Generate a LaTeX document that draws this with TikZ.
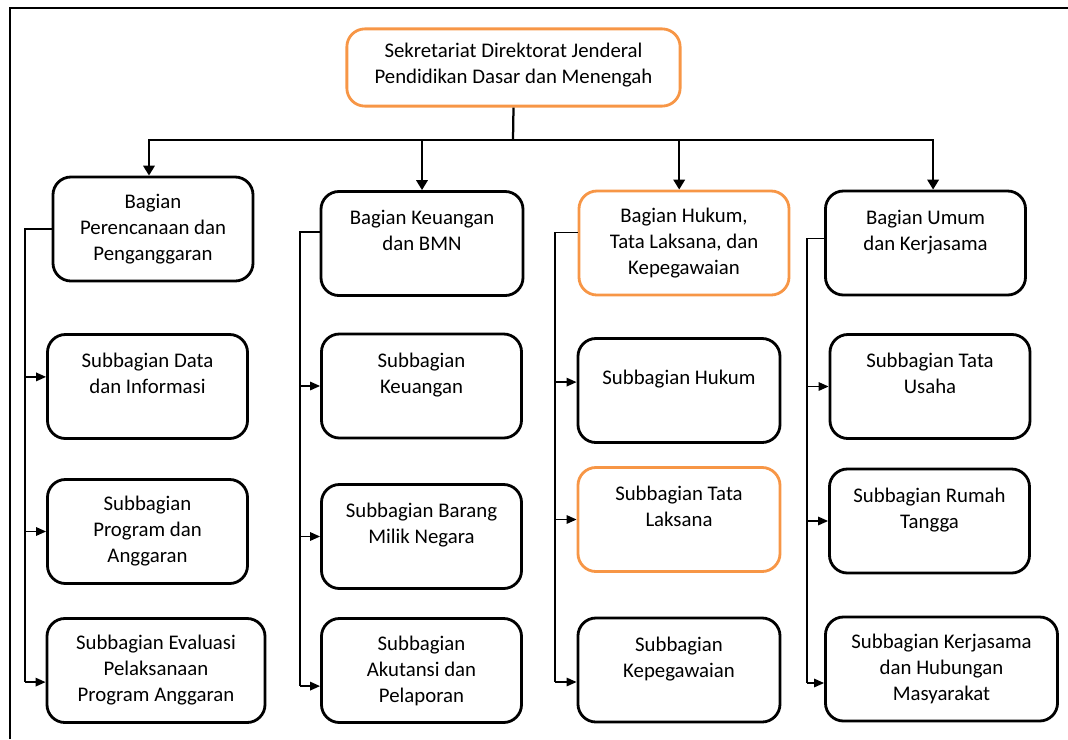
\documentclass[tikz,border=0pt]{standalone}
\usepackage{fontspec}
\setmainfont{Carlito}
\usetikzlibrary{arrows.meta}
\definecolor{oranye}{RGB}{247,150,70}
\tikzset{
	kotak/.style={draw, line width=2pt, rounded corners=0.45cm, minimum width=5cm, minimum height=2.6cm, align=center, inner sep=2pt, font=\fontsize{14.8}{18.5}\selectfont},
	sorot/.style={kotak, draw=oranye},
	panah/.style={-{Triangle[width=8pt,length=7pt]}, line width=1.6pt},
	cabang/.style={-{Triangle[width=6pt,length=7pt]}, line width=1pt},
}
\begin{document}
\begin{tikzpicture}[x=0.025cm,y=-0.025cm]
	\useasboundingbox (0,0) rectangle (1068,739);
	\draw[line width=1.8pt] (10,739) -- (10,8) -- (1068,8);
	\node[sorot, minimum width=8.33cm, minimum height=1.93cm] (atas) at (513.5,67.5) {Sekretariat Direktorat Jenderal\\Pendidikan Dasar dan Menengah\\[-12pt]~};
	\node[kotak] (b1) at (153,229) {Bagian\\Perencanaan dan\\Penganggaran};
	\node[kotak, minimum width=5.05cm] (b2) at (422,243.5) {Bagian Keuangan\\dan BMN\\~};
	\node[sorot, minimum width=5.25cm] (b3) at (684,243) {Bagian Hukum,\\Tata Laksana, dan\\Kepegawaian};
	\node[kotak] (b4) at (925.5,243) {Bagian Umum\\dan Kerjasama\\~};
	\node[kotak] (s1a) at (147.5,386.5) {Subbagian Data\\dan Informasi\\~};
	\node[kotak] (s1b) at (147.5,531.5) {Subbagian\\Program dan\\Anggaran};
	\node[kotak, minimum width=5.45cm] (s1c) at (156,670.5) {Subbagian Evaluasi\\Pelaksanaan\\Program Anggaran};
	\node[kotak] (s2a) at (421.5,386) {Subbagian\\Keuangan\\~};
	\node[kotak] (s2b) at (421.5,536.5) {Subbagian Barang\\Milik Negara\\~};
	\node[kotak] (s2c) at (421.5,670.5) {Subbagian\\Akutansi dan\\Pelaporan};
	\node[kotak, minimum width=5.05cm] (s3a) at (679,390.5) {Subbagian Hukum\\~};
	\node[sorot, minimum width=5.05cm] (s3b) at (679,519.5) {Subbagian Tata\\Laksana\\~};
	\node[kotak, minimum width=5.05cm] (s3c) at (679,670) {Subbagian\\Kepegawaian\\~};
	\node[kotak] (s4a) at (930,386.5) {Subbagian Tata\\Usaha\\~};
	\node[kotak] (s4b) at (929.5,521) {Subbagian Rumah\\Tangga\\~};
	\node[kotak, minimum width=5.8cm] (s4c) at (941.5,669) {Subbagian Kerjasama\\dan Hubungan\\Masyarakat};
	\coordinate (simpul) at (513,140);
	\draw[line width=1.6pt] (atas.south) -- (simpul);
	\draw[panah] (simpul) -| ([xshift=-0.1cm]b1.north);
	\draw[panah] (simpul) -| (b2.north);
	\draw[panah] (simpul) -| ([xshift=-0.12cm]b3.north);
	\draw[panah] (simpul) -| ([xshift=0.19cm]b4.north);
	\coordinate (jalur1) at (25,682);
	\coordinate (jalur2) at (300,686);
	\coordinate (jalur3) at (555,682);
	\coordinate (jalur4) at (807,683);
	\draw[line width=1pt] (b1.west) -| (jalur1);
	\draw[line width=1pt] ([yshift=0.29cm]b2.west) -| (jalur2);
	\draw[line width=1pt] ([yshift=0.27cm]b3.west) -| (jalur3);
	\draw[line width=1pt] ([yshift=0.12cm]b4.west) -| (jalur4);
	\draw[cabang] ([yshift=0.24cm]s1a.west -| jalur1) -- ([yshift=0.24cm]s1a.west);
	\draw[cabang] (s1b.west -| jalur1) -- (s1b.west);
	\draw[cabang] ([yshift=-0.29cm]s1c.west -| jalur1) -- ([yshift=-0.29cm]s1c.west);
	\draw[cabang] (s2a.west -| jalur2) -- (s2a.west);
	\draw[cabang] (s2b.west -| jalur2) -- (s2b.west);
	\draw[cabang] ([yshift=-0.39cm]s2c.west -| jalur2) -- ([yshift=-0.39cm]s2c.west);
	\draw[cabang] ([yshift=0.21cm]s3a.west -| jalur3) -- ([yshift=0.21cm]s3a.west);
	\draw[cabang] (s3b.west -| jalur3) -- (s3b.west);
	\draw[cabang] ([yshift=-0.3cm]s3c.west -| jalur3) -- ([yshift=-0.3cm]s3c.west);
	\draw[cabang] (s4a.west -| jalur4) -- (s4a.west);
	\draw[cabang] (s4b.west -| jalur4) -- (s4b.west);
	\draw[cabang] ([yshift=-0.35cm]s4c.west -| jalur4) -- ([yshift=-0.35cm]s4c.west);
\end{tikzpicture}
\end{document}
